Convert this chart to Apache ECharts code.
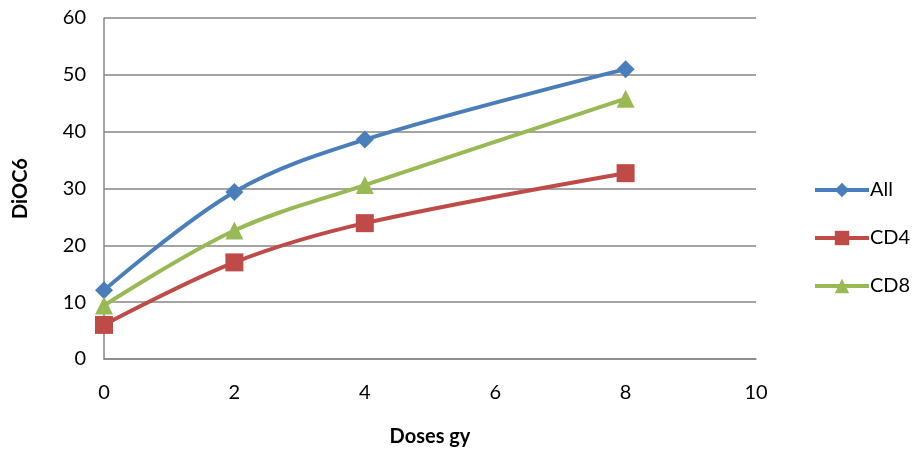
<!DOCTYPE html>
<html><head><meta charset="utf-8">
<script src="https://cdn.jsdelivr.net/npm/echarts@6/dist/echarts.min.js"></script>
<style>html,body{margin:0;padding:0;background:#fff}#c{width:919px;height:450px}</style>
</head><body><div id="c"></div>
<script>
const doses = [0, 2, 4, 8];
const allVals = [12.1, 29.4, 38.6, 51.0];
const cd4Vals = [6.0, 17.0, 23.9, 32.7];
const cd8Vals = [9.4, 22.6, 30.6, 45.8];
const seriesNames = ['All', 'CD4', 'CD8'];

const font = 'Lato, "Open Sans", sans-serif';
const pair = v => doses.map((d, i) => [d, v[i]]);
const chart = echarts.init(document.getElementById('c'));
const mk = (name, vals, color, symbol, size) => ({
  name, type: 'line', data: pair(vals), smooth: 0.35,
  symbol, symbolSize: size,
  lineStyle: { color, width: 4 },
  itemStyle: { color },
  emphasis: { disabled: true }
});
chart.setOption({
  animation: false,
  grid: { left: 104, right: 163, top: 18, bottom: 91, outerBoundsMode: 'none', containLabel: false },
  xAxis: {
    type: 'value', min: 0, max: 10, interval: 2,
    name: 'Doses gy', nameLocation: 'middle', nameGap: 68,
    nameTextStyle: { fontFamily: font, fontWeight: 'bold', fontSize: 20, color: '#000' },
    axisLine: { show: true, lineStyle: { color: '#868686', width: 1.5 } },
    axisTick: { show: false },
    splitLine: { show: false },
    axisLabel: { fontFamily: font, fontSize: 20, color: '#000', margin: 24 }
  },
  yAxis: {
    type: 'value', min: 0, max: 60, interval: 10,
    name: 'DiOC6', nameLocation: 'middle', nameGap: 73, nameRotate: 90,
    nameTextStyle: { fontFamily: font, fontWeight: 'bold', fontSize: 20, color: '#000' },
    axisLine: { show: true, lineStyle: { color: '#868686', width: 1.5 } },
    axisTick: { show: false },
    splitLine: { show: true, lineStyle: { color: '#868686', width: 1.5 } },
    axisLabel: { fontFamily: font, fontSize: 20, color: '#000', margin: 18 }
  },
  legend: {
    orient: 'vertical', left: 808, top: 175, itemGap: 28,
    itemWidth: 54, itemHeight: 18,
    lineStyle: { width: 4 },
    textStyle: { fontFamily: font, fontSize: 20, color: '#000', padding: [0, 0, 0, -4] },
    data: seriesNames
  },
  series: [
    mk(seriesNames[0], allVals, '#4A7EBB', 'diamond', 18),
    mk(seriesNames[1], cd4Vals, '#BE4B48', 'rect', 18),
    mk(seriesNames[2], cd8Vals, '#98B954', 'triangle', 18)
  ]
});
</script></body></html>
